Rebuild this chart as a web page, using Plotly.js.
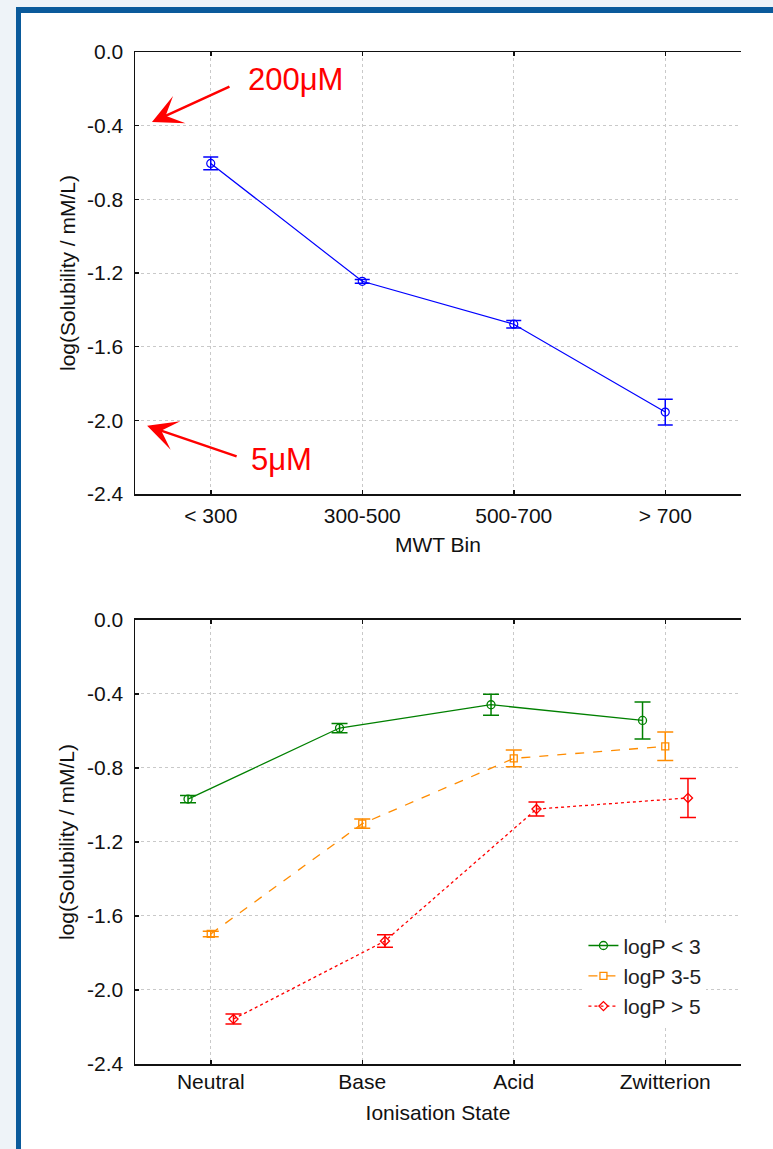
<!DOCTYPE html>
<html>
<head>
<meta charset="utf-8">
<script src="https://cdn.plot.ly/plotly-3.0.1.min.js"></script>
<style>
  html, body { margin: 0; padding: 0; background: #eef3f8; width: 773px; height: 1149px; overflow: hidden; }
  #frame { position: absolute; left: 16px; top: 7px; right: 0; bottom: 0; background: #ffffff;
           border-left: 5px solid #0a5a9b; border-top: 6px solid #0a5a9b; }
  #chart { position: absolute; left: 0; top: 0; width: 773px; height: 1149px; }
</style>
</head>
<body>
<div id="frame"></div>
<div id="chart"></div>
<script>
// Solubility by molecular-weight bin
const mwtBins = ['< 300', '300-500', '500-700', '> 700'];
const mwtSolubility = [-0.605, -1.245, -1.478, -1.955];
const mwtError = [0.035, 0.01, 0.02, 0.07];

// Solubility by ionisation state, split by logP class
const ionStates = ['Neutral', 'Base', 'Acid', 'Zwitterion'];
const logPLow = [-0.968, -0.584, -0.458, -0.543];
const logPLowErr = [0.02, 0.025, 0.057, 0.10];
const logPMid = [-1.697, -1.101, -0.748, -0.683];
const logPMidErr = [0.015, 0.025, 0.045, 0.077];
const logPHigh = [-2.157, -1.735, -1.022, -0.962];
const logPHighErr = [0.027, 0.034, 0.038, 0.105];
const seriesNames = ['logP < 3', 'logP 3-5', 'logP > 5'];

// Shared y ticks
const yTickVals = [0, -0.4, -0.8, -1.2, -1.6, -2.0, -2.4];
const yTickText = ['0.0', '-0.4', '-0.8', '-1.2', '-1.6', '-2.0', '-2.4'];

const FONT = 'Liberation Sans, Arial, Helvetica, sans-serif';
const INK = '#111111';
const GRID = '#c9c9c9';

function errBars(arr, color, w) {
  return { type: 'data', array: arr, visible: true, color: color, thickness: 1.5, width: w };
}

const traces = [
  {
    x: mwtBins, y: mwtSolubility, xaxis: 'x', yaxis: 'y', type: 'scatter', mode: 'lines+markers',
    showlegend: false,
    line: { color: '#0000ff', width: 1.2 },
    marker: { symbol: 'circle-open', size: 8, color: '#0000ff', line: { width: 1.2 } },
    error_y: errBars(mwtError, '#0000ff', 7.5)
  },
  {
    x: ionStates, y: logPLow, xaxis: 'x2', yaxis: 'y2', type: 'scatter', mode: 'lines+markers',
    name: seriesNames[0],
    line: { color: '#008000', width: 1.3 },
    marker: { symbol: 'circle-open', size: 8, color: '#008000', line: { width: 1.3 } },
    error_y: errBars(logPLowErr, '#008000', 8)
  },
  {
    x: ionStates, y: logPMid, xaxis: 'x2', yaxis: 'y2', type: 'scatter', mode: 'lines+markers',
    name: seriesNames[1],
    line: { color: '#ff8c00', width: 1.3, dash: 'dash' },
    marker: { symbol: 'square-open', size: 7, color: '#ff8c00', line: { width: 1.3 } },
    error_y: errBars(logPMidErr, '#ff8c00', 8)
  },
  {
    x: ionStates, y: logPHigh, xaxis: 'x2', yaxis: 'y2', type: 'scatter', mode: 'lines+markers',
    name: seriesNames[2],
    line: { color: '#ff0000', width: 1.3, dash: 'dot' },
    marker: { symbol: 'diamond-open', size: 7, color: '#ff0000', line: { width: 1.3 } },
    error_y: errBars(logPHighErr, '#ff0000', 8)
  }
];

function catAxis(cats, yAnchor, titleText, labelGap, titleGap) {
  return {
    type: 'category', categoryorder: 'array', categoryarray: cats,
    range: [-0.5, 3.5], domain: [0, 1], anchor: yAnchor,
    showgrid: true, gridcolor: GRID, gridwidth: 1, griddash: 'dot',
    showline: true, linecolor: INK, linewidth: 1.5, mirror: 'ticks',
    ticks: 'inside', ticklen: 4, tickwidth: 1.5, tickcolor: INK,
    tickfont: { family: FONT, size: 21, color: INK },
    ticklabelstandoff: labelGap,
    automargin: false, fixedrange: true,
    title: { text: titleText, font: { family: FONT, size: 21, color: INK }, standoff: titleGap }
  };
}

function valAxis(domain, xAnchor) {
  return {
    range: [-2.4, 0], domain: domain, anchor: xAnchor,
    tickmode: 'array', tickvals: yTickVals, ticktext: yTickText,
    showgrid: true, gridcolor: GRID, gridwidth: 1, griddash: 'dot', zeroline: false,
    showline: true, linecolor: INK, linewidth: 1.5, mirror: false,
    ticks: 'inside', ticklen: 4, tickwidth: 1.5, tickcolor: INK,
    tickfont: { family: FONT, size: 21, color: INK },
    ticklabelstandoff: 6,
    automargin: false, fixedrange: true,
    title: { text: 'log(Solubility / mM/L)', font: { family: FONT, size: 21, color: INK }, standoff: 6 }
  };
}

function rightTickAxis(overlay, xAnchor, n) {
  return {
    overlaying: overlay, anchor: xAnchor, side: 'right', range: [0, n],
    tickmode: 'linear', tick0: 0, dtick: 1,
    ticks: 'inside', ticklen: 5, tickwidth: 1.5, tickcolor: INK,
    showticklabels: false, showgrid: false, zeroline: false,
    showline: true, linecolor: INK, linewidth: 1.5,
    automargin: false, fixedrange: true
  };
}

const annFont = { family: FONT, size: 31, color: '#ff0000' };

const layout = {
  width: 773, height: 1149,
  margin: { l: 135, r: 32, t: 52, b: 85 },
  paper_bgcolor: 'rgba(0,0,0,0)',
  plot_bgcolor: '#ffffff',
  font: { family: FONT, color: INK },
  scattermode: 'group',
  scattergap: 0.55,
  xaxis: catAxis(mwtBins, 'y', 'MWT Bin', 2, 11),
  yaxis: valAxis([0.56324, 1], 'x'),
  yaxis3: rightTickAxis('y', 'x', 9),
  xaxis2: catAxis(ionStates, 'y2', 'Ionisation State', -2, 13),
  yaxis2: valAxis([0, 0.43874], 'x2'),
  yaxis4: rightTickAxis('y2', 'x2', 11),
  showlegend: true,
  legend: {
    x: 0.74, y: 0.137, xanchor: 'left', yanchor: 'top',
    bgcolor: '#ffffff', borderwidth: 0,
    font: { family: FONT, size: 21, color: '#222222' }
  },
  annotations: [
    { xref: 'x', yref: 'y', x: -0.388, y: -0.38, axref: 'pixel', ayref: 'pixel', ax: 79, ay: -36,
      text: '', showarrow: true, arrowhead: 3, arrowsize: 2, arrowwidth: 2.5, arrowcolor: '#ff0000' },
    { xref: 'x', yref: 'y', x: 0.234, y: -0.152, text: '200μM', showarrow: false,
      xanchor: 'left', yanchor: 'middle', font: annFont },
    { xref: 'x', yref: 'y', x: -0.42, y: -2.03, axref: 'pixel', ayref: 'pixel', ax: 91, ay: 31,
      text: '', showarrow: true, arrowhead: 3, arrowsize: 2, arrowwidth: 2.5, arrowcolor: '#ff0000' },
    { xref: 'x', yref: 'y', x: 0.253, y: -2.214, text: '5μM', showarrow: false,
      xanchor: 'left', yanchor: 'middle', font: annFont }
  ]
};

Plotly.newPlot('chart', traces, layout, { staticPlot: true, displayModeBar: false });
</script>
</body>
</html>
